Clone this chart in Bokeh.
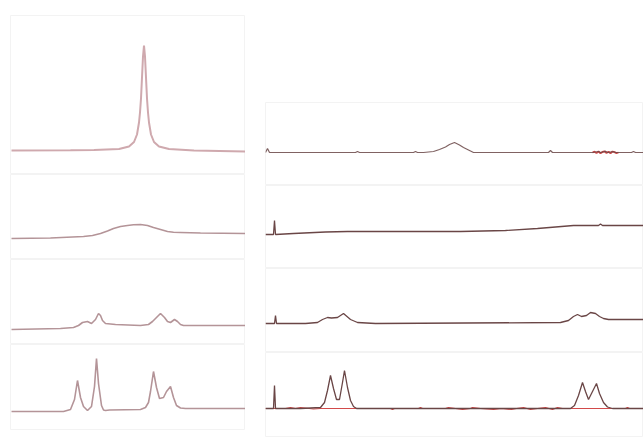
from bokeh.plotting import figure
from bokeh.layouts import row, column
from bokeh.models import Spacer, Range1d
from bokeh.embed import file_html
from bokeh.resources import INLINE

# ---------------- data (channel, intensity) ----------------
# Left column spectra
l1_x = [1, 60, 83.5, 108.5, 118.5, 123.5, 126.5, 128.5, 129.5, 130.5, 131.5, 132.5, 133.5,
        134.5, 135.5, 136.5, 137.5, 138.5, 140.5, 143.5, 148.5, 158.5, 183.5, 235]
l1_y = [0, 0.3, 0.5, 1.5, 4, 8.5, 16, 28, 38, 52, 73, 94, 105,
        94, 73, 52, 38, 28, 16, 8.5, 4, 1.5, 0, -1]

l2_x = [1, 40, 73, 82, 90, 97, 103, 110, 117, 123, 130, 137, 143, 150, 157, 163, 170, 190, 235]
l2_y = [0, 0.5, 2, 3, 5, 7.5, 10, 12, 13, 13.8, 14, 13, 11, 9, 7, 6.2, 6, 5.5, 5]

l3_x = [1, 50, 63, 68, 72, 77, 81, 85, 88, 90, 92, 95, 105, 130, 138, 142, 146,
        150, 154, 157, 160, 164, 167, 170, 173, 180, 200, 235]
l3_y = [0, 1, 2, 4, 7, 8, 6, 10, 16, 14, 9, 6, 5, 4, 5, 8, 12,
        16, 12, 8, 7, 10, 8, 5, 4, 4, 4, 4]

l4_x = [1, 53, 60, 64, 67, 70, 73, 77, 81, 84, 86, 88, 91, 93, 95, 99, 130, 135,
        138, 140, 143, 146, 149, 153, 156, 160, 163, 166, 170, 175, 235]
l4_y = [0, 0, 2, 12, 31, 14, 5, 1, 5, 25, 53, 28, 6, 1.5, 1, 1.5, 2, 4,
        9, 20, 40, 24, 13, 14, 20, 25, 14, 6, 3.5, 3, 3]

# Right column spectra
r1_x = [0, 1, 2, 4, 90, 92, 94, 148, 150, 152, 158, 168, 174, 180, 184, 189,
        194, 198, 208, 283, 285, 287, 327, 333, 335, 340, 342, 348, 350, 352, 366, 368, 370, 378]
r1_y = [0, 2, 4, 0, 0, 1, 0, 0, 1, 0, 0, 1, 3, 5.5, 8, 10,
        7.5, 5, 0, 0, 2, 0, 0, 1, 0, 1.2, 0, 0.8, 0, 0, 0, 1, 0, 0]
r1_red_x = [327, 329, 331, 333, 335, 337, 339, 341, 343, 345, 347, 349, 351, 353]
r1_red_y = [0, 0.8, -0.6, 1, -0.8, 0.6, 1.2, -0.5, 0.7, -0.8, 1, 0.4, -0.6, 0]

r2_x = [0, 8, 9, 10, 28, 60, 82, 120, 195, 240, 272, 290, 308, 333, 335, 337, 378]
r2_y = [0, 0, 14, 0, 1, 2.5, 3, 3, 3, 4, 6, 7.5, 9, 9, 10.5, 9, 9]

r3_x = [0, 9, 10, 11, 40, 52, 57, 62, 66, 72, 78, 85, 92, 110, 200, 295, 303, 308, 312,
        316, 321, 325, 330, 334, 338, 343, 352, 378]
r3_y = [0, 0, 8, 0, 0, 1, 4, 6, 5.5, 6, 10, 4, 1, 0, 0.5, 1, 3, 7, 9,
        7, 8, 11, 10, 7, 5, 4, 4, 4]

r4_x = [0, 8, 9, 10, 35, 55, 59, 62, 65, 68, 71, 74, 77, 79, 82, 85, 88, 91,
        305, 309, 313, 317, 320, 323, 327, 331, 334, 338, 342, 347, 378]
r4_y = [0, 0, 23, 0, 0, 1, 6, 18, 33, 20, 9, 9, 26, 38, 21, 8, 2, 0,
        0, 3, 13, 26, 17, 9, 17, 25, 15, 6, 1.5, 0, 0]
r4_red_x = [0, 20, 25, 30, 35, 48, 55, 100, 125, 127, 129, 153, 155, 157, 180, 183, 190,
            197, 205, 207, 215, 228, 236, 246, 251, 258, 265, 272, 280, 287, 292, 297,
            300, 360, 362, 364, 378]
r4_red_y = [0, 0, 1, 0, 1, -0.5, 0, 0, 0, -1, 0, 0, 1, 0, 0, 1, 0,
            -1, 0, 1, 0, -1, 0, -1, 0, 1, -1, 0, 1, -1, 1, 0,
            0, 0, 1, 0, 0]

# ---------------- styling / layout ----------------
LEFT_W = 235
RIGHT_W = 378
LEFT_C = "#b49498"
LEFT_C1 = "#cfa9ae"
RIGHT_C = "#6a4646"
RED_C = "#d24a4a"


def panel(w, h, xr, yr):
    p = figure(width=w, height=h, output_backend="svg", toolbar_location=None,
               x_range=Range1d(*xr), y_range=Range1d(*yr), min_border=0)
    p.axis.visible = False
    p.grid.visible = False
    p.outline_line_color = "#f3f3f3"
    p.outline_line_width = 1
    p.background_fill_color = "white"
    p.border_fill_color = "white"
    return p


L1 = panel(LEFT_W, 159, (0, LEFT_W), (-24, 135))
L1.line(l1_x, l1_y, line_color=LEFT_C1, line_width=2)
L2 = panel(LEFT_W, 85, (0, LEFT_W), (-21, 64))
L2.line(l2_x, l2_y, line_color=LEFT_C, line_width=1.6)
L3 = panel(LEFT_W, 85, (0, LEFT_W), (-15, 70))
L3.line(l3_x, l3_y, line_color=LEFT_C, line_width=1.6)
L4 = panel(LEFT_W, 86, (0, LEFT_W), (-19, 67))
L4.line(l4_x, l4_y, line_color=LEFT_C, line_width=1.6)

R1 = panel(RIGHT_W, 83, (0, RIGHT_W), (-33, 50))
R1.line(r1_red_x, r1_red_y, line_color=RED_C, line_width=1.8)
R1.line(r1_x, r1_y, line_color=RIGHT_C, line_width=1.2, line_alpha=0.85)
R2 = panel(RIGHT_W, 83, (0, RIGHT_W), (-34, 49))
R2.line(r2_x, r2_y, line_color=RIGHT_C, line_width=1.3)
R3 = panel(RIGHT_W, 84, (0, RIGHT_W), (-29, 55))
R3.line(r3_x, r3_y, line_color=RIGHT_C, line_width=1.3)
R4 = panel(RIGHT_W, 85, (0, RIGHT_W), (-29, 56))
R4.line(r4_red_x, r4_red_y, line_color=RED_C, line_width=1.2)
R4.line(r4_x, r4_y, line_color=RIGHT_C, line_width=1.3)

left_col = column(Spacer(height=15), L1, L2, L3, L4, spacing=0)
right_col = column(Spacer(height=102), R1, R2, R3, R4, spacing=0)
page = row(Spacer(width=10), left_col, Spacer(width=20), right_col, spacing=0)

open("out.html", "w").write(file_html(page, INLINE))
